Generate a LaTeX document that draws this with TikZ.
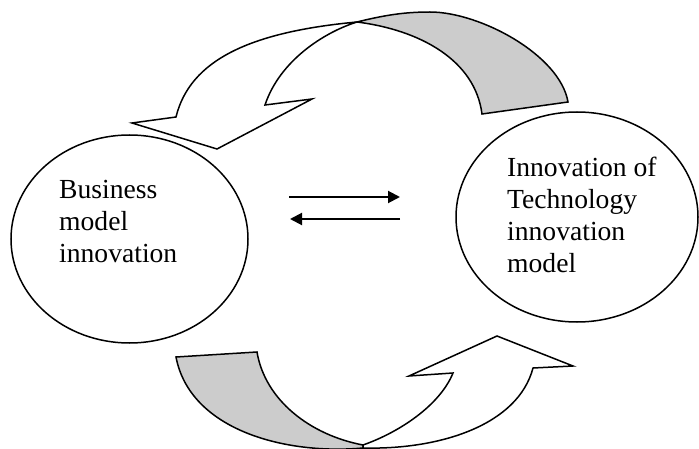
\documentclass[tikz,border=0pt]{standalone}
\usepackage{fontspec}
\setmainfont{Liberation Serif}
\usetikzlibrary{shapes.geometric,arrows.meta}
\definecolor{backgray}{RGB}{204,204,204}
\begin{document}
\begin{tikzpicture}[x=1pt,y=-1pt,
  bubble/.style={draw, ellipse, line width=1.5pt, inner sep=0pt},
  bubbletext/.style={anchor=base west, inner sep=0pt, font=\fontsize{27.6}{32}\selectfont},
  ribbonfront/.style={draw, fill=white, line width=1.5pt, line join=miter},
  ribbonback/.style={draw, fill=backgray, line width=1.5pt, line join=miter},
  flow/.style={line width=2pt, -{Triangle[length=12pt,width=12pt]}}]
\useasboundingbox (0,0) rectangle (699,449);

% ellipses
\node[bubble, minimum width=237pt, minimum height=208pt] (bm) at (129.5,239) {};
\node[bubble, minimum width=242pt, minimum height=210pt] (tm) at (577,217) {};

\node[bubbletext] (bmtext) at (59,198.3) {\begin{tabular}[t]{@{}l@{}}Business\\model\\innovation\end{tabular}};
\node[bubbletext] (tmtext) at (507,176.7) {\begin{tabular}[t]{@{}l@{}}Innovation of\\Technology\\innovation\\model\end{tabular}};

% middle arrows
\coordinate (r1) at (289,197);
\coordinate (r2) at (400,197);
\coordinate (l1) at (400,219);
\coordinate (l2) at (290,219);
\draw[flow] (r1) -- (r2);
\draw[flow] (l1) -- (l2);

% top curved arrow: back (gray) part
\path[ribbonback] (357,22) .. controls (385,15) and (405,12) .. (430,12)
  .. controls (480,12) and (560,55) .. (568,102)
  -- (482,114)
  .. controls (475,60) and (420,30) .. (357,22) -- cycle;
% top curved arrow: front (white) part
\path[ribbonfront] (176,117) .. controls (190,60) and (250,32) .. (357,22)
  .. controls (325,32) and (280,60) .. (265,105)
  -- (312,99) -- (217,149) -- (132,123) -- cycle;

% bottom curved arrow: back (gray) part
\path[ribbonback] (176,357) -- (257,352)
  .. controls (265,400) and (310,435) .. (363,445)
  -- (363,448)
  .. controls (285,455) and (190,430) .. (176,357) -- cycle;
% bottom curved arrow: front (white) part
\path[ribbonfront] (363,445) .. controls (400,432) and (440,405) .. (453,373)
  -- (409,376) -- (497,336) -- (573,366) -- (533,368)
  .. controls (518,425) and (440,450) .. (363,448) -- cycle;
\end{tikzpicture}
\end{document}
